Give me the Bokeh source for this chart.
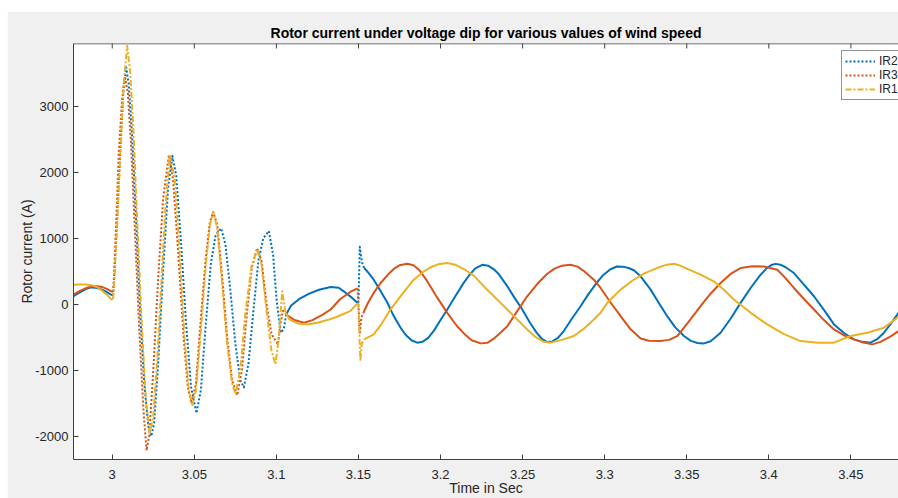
import math
from bokeh.plotting import figure
from bokeh.models import (Range1d, FixedTicker, Legend, LegendItem, Span,
                          CustomJSTickFormatter)
from bokeh.embed import file_html
from bokeh.resources import INLINE

# ---------------- data ----------------
series_names = ["IR2", "IR3", "IR1"]

t_ir2 = [2.9764, 2.980, 2.984, 2.987, 2.990, 2.993, 2.996, 2.999, 3.0005,
         3.001, 3.003, 3.005, 3.0068, 3.0085, 3.010, 3.012, 3.0145, 3.017, 3.0195,
         3.022, 3.0238, 3.0255, 3.028, 3.031, 3.034, 3.0366, 3.039, 3.042, 3.045,
         3.048, 3.0513, 3.054, 3.057, 3.060, 3.063, 3.0664, 3.069, 3.072, 3.075,
         3.078, 3.0802, 3.083, 3.086, 3.089, 3.092, 3.0954, 3.098, 3.100, 3.1025,
         3.1045, 3.106,
         3.109, 3.114, 3.120, 3.126, 3.133, 3.138, 3.141, 3.145, 3.1492,
         3.1500, 3.1508, 3.1518, 3.1525, 3.1535,
         3.156, 3.1593, 3.163, 3.1675, 3.1715, 3.1755, 3.179, 3.1825, 3.1858, 3.189,
         3.1925, 3.196, 3.200, 3.2041, 3.209, 3.214, 3.2175, 3.221, 3.2254, 3.229,
         3.2325, 3.2357, 3.2407, 3.245, 3.2498, 3.2545, 3.2585, 3.262, 3.265, 3.268,
         3.2715, 3.275, 3.280, 3.2853, 3.290, 3.295, 3.299, 3.3035, 3.3075, 3.311,
         3.3145, 3.3178, 3.322, 3.328, 3.333, 3.3381, 3.343, 3.3483, 3.3525, 3.3565,
         3.3605, 3.3645, 3.368, 3.3706, 3.3767, 3.3828, 3.389, 3.395, 3.3985, 3.4015,
         3.4041, 3.407, 3.410, 3.4153, 3.421, 3.4275, 3.434, 3.4397, 3.446, 3.4518,
         3.457, 3.462, 3.466, 3.4701, 3.4745, 3.479]
ir2 = [121, 175, 230, 255, 250, 230, 195, 150, 130,
       300, 1300, 2400, 3250, 3590, 3350, 2600, 1300, -100, -1200,
       -1850, -2000, -1800, -900, 500, 1750, 2250, 1950, 900, -300,
       -1250, -1650, -1300, -300, 600, 1050, 1150, 900, 200, -600,
       -1150, -1260, -900, -100, 650, 1000, 1110, 750, 100, -430,
       -380, -150,
       -20, 80, 160, 220, 260, 250, 196, 120, 25,
       40, 870, 700, 600, 550,
       480, 372, 220, 30, -180, -350, -470, -550, -582, -570,
       -510, -400, -240, -80, 120, 320, 440, 540, 598, 585,
       530, 450, 272, 100, -80, -280, -430, -530, -573, -565,
       -510, -410, -220, -30, 150, 320, 440, 530, 572, 570,
       550, 515, 420, 222, 20, -181, -350, -482, -555, -588,
       -593, -560, -490, -432, -220, 21, 250, 448, 540, 595,
       612, 600, 565, 473, 310, 121, -100, -306, -440, -532,
       -570, -582, -530, -432, -290, -130]

t_ir3 = [2.9764, 2.980, 2.984, 2.988, 2.991, 2.994, 2.997, 2.9995, 3.0005,
         3.001, 3.0025, 3.004, 3.006, 3.0078, 3.0095, 3.0115, 3.014, 3.0165, 3.019,
         3.0209, 3.0225, 3.025, 3.028, 3.031, 3.0345, 3.037, 3.040, 3.0435, 3.046,
         3.0483, 3.051, 3.054, 3.057, 3.0595, 3.0615, 3.064, 3.067, 3.070, 3.073,
         3.0761, 3.079, 3.082, 3.085, 3.0883, 3.091, 3.094, 3.097, 3.1009, 3.1025,
         3.104,
         3.107, 3.111, 3.1167, 3.122, 3.128, 3.133, 3.139, 3.1452, 3.1494,
         3.1502, 3.1508, 3.1518, 3.153,
         3.156, 3.1595, 3.1635, 3.168, 3.1715, 3.175, 3.1797, 3.1835, 3.187, 3.1919,
         3.198, 3.2041, 3.210, 3.2145, 3.219, 3.2244, 3.2285, 3.232, 3.2357, 3.2407,
         3.2468, 3.2528, 3.259, 3.265, 3.2695, 3.274, 3.2792, 3.2835, 3.2875, 3.2934,
         3.2975, 3.3035, 3.3097, 3.3158, 3.3219, 3.327, 3.334, 3.3392, 3.3442, 3.351,
         3.3584, 3.3645, 3.3706, 3.3767, 3.3828, 3.390, 3.397, 3.4052, 3.410, 3.4153,
         3.4214, 3.4275, 3.4336, 3.4397, 3.4458, 3.4518, 3.4575, 3.4631, 3.468, 3.474,
         3.479]
ir3 = [146, 200, 245, 270, 272, 260, 230, 196, 190,
       400, 1300, 2300, 3100, 3450, 3200, 2400, 1000, -400, -1600,
       -2217, -2000, -1000, 400, 1600, 2260, 1900, 850, -500, -1250,
       -1500, -1200, -200, 700, 1250, 1400, 1200, 400, -500, -1150,
       -1380, -1000, -150, 550, 850, 650, 0, -450, -608, -300,
       -100,
       -170, -240, -281, -240, -160, -80, 80, 190, 240,
       -100, -430, -200, -130,
       30, 180, 322, 450, 535, 590, 614, 590, 520, 350,
       100, -130, -330, -450, -545, -593, -585, -530, -450, -332,
       -100, 121, 310, 463, 540, 585, 599, 570, 500, 372,
       247, 30, -181, -380, -520, -553, -558, -540, -482, -270,
       -30, 160, 322, 460, 549, 575, 573, 523, 400, 247,
       80, -80, -240, -382, -470, -532, -580, -608, -570, -490,
       -407]

t_ir1 = [2.9764, 2.980, 2.984, 2.988, 2.991, 2.994, 2.997, 2.9994, 3.0005,
         3.001, 3.003, 3.005, 3.007, 3.0091, 3.011, 3.013, 3.0155, 3.018, 3.0205,
         3.0228, 3.025, 3.0275, 3.0305, 3.0325, 3.0351, 3.038, 3.041, 3.044, 3.0465,
         3.0487, 3.051, 3.054, 3.057, 3.0595, 3.0615, 3.064, 3.067, 3.070, 3.073,
         3.0751, 3.078, 3.081, 3.085, 3.0883, 3.091, 3.094, 3.097, 3.0995, 3.1015,
         3.1035, 3.1045, 3.1055,
         3.108, 3.113, 3.1188, 3.125, 3.131, 3.137, 3.1452, 3.1492,
         3.1500, 3.1506, 3.1512, 3.152, 3.1535,
         3.1593, 3.164, 3.1695, 3.1765, 3.1837, 3.190, 3.194, 3.1985, 3.2041, 3.209,
         3.2145, 3.2203, 3.228, 3.2366, 3.2447, 3.2528, 3.258, 3.263, 3.267, 3.274,
         3.2812, 3.2873, 3.2934, 3.2975, 3.3015, 3.3097, 3.317, 3.3239, 3.333, 3.338,
         3.3422, 3.346, 3.350, 3.3584, 3.3665, 3.3726, 3.3787, 3.389, 3.399, 3.409,
         3.4193, 3.430, 3.4397, 3.4498, 3.460, 3.4701, 3.479]
ir1 = [297, 300, 300, 285, 255, 200, 140, 75, 80,
       250, 1200, 2300, 3350, 3917, 3500, 2600, 1100, -300, -1450,
       -1965, -1700, -800, 600, 1500, 2273, 1900, 800, -500, -1250,
       -1540, -1300, -400, 600, 1200, 1403, 1150, 300, -600, -1200,
       -1362, -1000, -150, 600, 835, 600, -100, -700, -910, -500,
       196, 50, -125,
       -232, -290, -306, -280, -240, -190, -100, 10,
       0, -500, -860, -600, -532,
       -457, -300, -80, 150, 372, 500, 560, 605, 624, 600,
       530, 433, 230, 21, -180, -382, -500, -570, -582, -540,
       -482, -370, -231, -130, 20, 222, 360, 463, 560, 600,
       614, 585, 540, 448, 347, 220, 71, -130, -306, -450,
       -558, -585, -582, -482, -432, -357, -190]

x_ticks = [3.0, 3.05, 3.1, 3.15, 3.2, 3.25, 3.3, 3.35, 3.4, 3.45]
y_ticks = [-2000, -1000, 0, 1000, 2000, 3000]

# ---------------- styling ----------------
FONT = "Liberation Sans"
AX = "#404040"
COLORS = {"IR2": "#0072BD", "IR3": "#D95319", "IR1": "#EDB120"}
FAST_DASH = {"IR2": "2 2", "IR3": "2 2", "IR1": "6 2 2 2"}
FAST = [(3.0004, 3.1062), (3.1490, 3.1540)]   # fast transient windows (drawn dotted)

p = figure(width=891, height=487, margin=(11, 0, 0, 7),
           output_backend="svg", toolbar_location=None,
           x_range=Range1d(2.9764, 3.4790), y_range=Range1d(-2353, 3952),
           min_border_left=66, min_border_right=0, min_border_top=32,
           min_border_bottom=37)
p.background_fill_color = "white"
p.border_fill_color = "#f0f0f0"
p.outline_line_color = None
p.xgrid.visible = False
p.ygrid.visible = False

p.title.text = "Rotor current under voltage dip for various values of wind speed"
p.title.text_font = FONT
p.title.text_font_size = "14px"
p.title.text_font_style = "bold"
p.title.text_color = "black"
p.title.align = "center"
p.title.standoff = 6

fmt = CustomJSTickFormatter(code="return String(Math.round(tick*100)/100);")


def style_axis(ax, ticks):
    ax.ticker = FixedTicker(ticks=ticks)
    ax.formatter = fmt
    ax.axis_line_color = AX
    ax.major_tick_line_color = AX
    ax.major_tick_in = 5
    ax.major_tick_out = 0
    ax.minor_tick_line_color = None
    ax.major_label_text_font = FONT
    ax.major_label_text_font_size = "13px"
    ax.major_label_text_color = "#262626"
    ax.axis_label_text_font = FONT
    ax.axis_label_text_font_size = "14px"
    ax.axis_label_text_font_style = "normal"
    ax.axis_label_text_color = "#262626"


style_axis(p.xaxis[0], x_ticks)
style_axis(p.yaxis[0], y_ticks)
p.xaxis.axis_label = "Time in Sec"
p.xaxis.major_label_standoff = 10
p.xaxis.axis_label_standoff = -2
p.yaxis.axis_label = "Rotor current (A)"
p.yaxis.major_label_standoff = 5
p.yaxis.axis_label_standoff = -3

# top box edge with inward ticks (MATLAB "box on")
p.add_layout(Span(location=p.y_range.end, dimension="width",
                  line_color=AX, line_width=1.5))
p.scatter(x=x_ticks, y=[p.y_range.end] * len(x_ticks), marker="dash",
          angle=math.pi / 2, size=10, line_color=AX, line_width=1)


def is_fast(tm):
    return any(a <= tm <= b for a, b in FAST)


def draw(name, t, v):
    # group consecutive segments into solid (slow) and dotted (fast) polylines
    groups = []
    for i in range(len(t) - 1):
        f = is_fast((t[i] + t[i + 1]) / 2)
        if groups and groups[-1][0] == f:
            groups[-1][1].append(i + 1)
        else:
            groups.append([f, [i, i + 1]])
    legend_r = None
    for f, idx in groups:
        r = p.line([t[k] for k in idx], [v[k] for k in idx], line_color=COLORS[name],
                   line_width=2, line_dash=FAST_DASH[name] if f else "solid",
                   line_join="round")
        if f and legend_r is None:
            legend_r = r
    return legend_r


legend_rs = {}
legend_rs["IR2"] = draw("IR2", t_ir2, ir2)
legend_rs["IR3"] = draw("IR3", t_ir3, ir3)
legend_rs["IR1"] = draw("IR1", t_ir1, ir1)

items = [LegendItem(label=name, renderers=[legend_rs[name]]) for name in series_names]

leg = Legend(items=items, location=(768, 359), orientation="vertical",
             border_line_color="#262626", border_line_width=1,
             background_fill_color="white", background_fill_alpha=1.0,
             label_text_font=FONT, label_text_font_size="12px",
             label_text_color="#262626",
             glyph_width=30, glyph_height=14, label_height=14,
             label_standoff=4, spacing=0, padding=3, margin=0)
p.add_layout(leg, "center")

open("out.html", "w").write(file_html(p, INLINE))
